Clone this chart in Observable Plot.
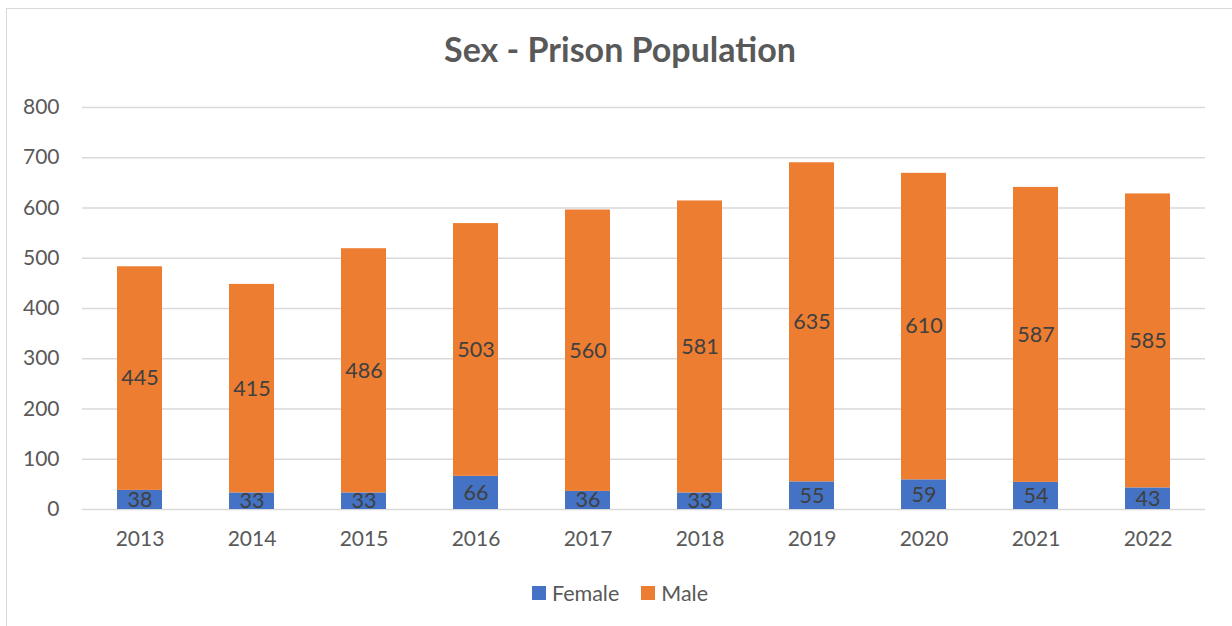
<!DOCTYPE html>
<html>
<head>
<meta charset="utf-8">
<script src="https://cdn.jsdelivr.net/npm/d3@7"></script>
<script src="https://cdn.jsdelivr.net/npm/@observablehq/plot@0.6"></script>
<style>
  html, body { margin: 0; padding: 0; background: #fff; overflow: hidden; }
  body { width: 1232px; height: 626px; position: relative; font-family: Lato, "Open Sans", sans-serif; }
  #frame { position: absolute; left: 6px; top: 8px; width: 1300px; height: 700px; border: 1.5px solid #d9d9d9; box-sizing: border-box; }
  #chart { position: absolute; left: 0; top: 0; }
  #title { position: absolute; left: 0; width: 1240px; top: 28px; text-align: center; font-size: 34px; font-weight: bold; color: #595959; line-height: 42px; }
  #legend { position: absolute; left: 0; width: 1240px; top: 580px; display: flex; justify-content: center; gap: 22px; font-size: 21.5px; color: #595959; line-height: 26px; }
  .item { display: flex; align-items: center; gap: 6px; }
  .sw { width: 14px; height: 14px; display: inline-block; }
</style>
</head>
<body>
<div id="frame"></div>
<div id="chart"></div>
<div id="title">Sex - Prison Population</div>
<div id="legend"></div>
<script>
const years = ["2013","2014","2015","2016","2017","2018","2019","2020","2021","2022"];
const female = [38, 33, 33, 66, 36, 33, 55, 59, 54, 43];
const male = [445, 415, 486, 503, 560, 581, 635, 610, 587, 585];
const seriesNames = ["Female", "Male"];
const seriesColors = ["#4472c4", "#ed7d31"];
const yTicks = [0, 100, 200, 300, 400, 500, 600, 700, 800];

const rows = [];
years.forEach((yr, i) => {
  rows.push({year: yr, sex: "Female", value: female[i]});
  rows.push({year: yr, sex: "Male", value: male[i]});
});

const plot = Plot.plot({
  width: 1232,
  height: 560,
  marginLeft: 82,
  marginRight: 27,
  marginTop: 107,
  marginBottom: 51,
  style: {background: "transparent", fontFamily: "Lato, 'Open Sans', sans-serif", fontSize: "21px", color: "#595959"},
  x: {domain: years, paddingInner: 0.6, paddingOuter: 0.3, label: null, tickSize: 0, tickPadding: 22},
  y: {domain: [0, 800], ticks: yTicks, label: null, tickSize: 0, tickPadding: 23},
  color: {domain: seriesNames, range: seriesColors},
  marks: [
    Plot.gridY(yTicks, {stroke: "#d9d9d9", strokeOpacity: 1, strokeWidth: 1.5}),
    Plot.barY(rows, Plot.stackY({x: "year", y: "value", fill: "sex", order: seriesNames})),
    Plot.text(rows, Plot.stackY({x: "year", y: "value", z: "sex", order: seriesNames, text: "value", fill: "#404040", fontSize: 21.5}))
  ]
});
document.getElementById("chart").appendChild(plot);

const legend = document.getElementById("legend");
seriesNames.forEach((n, i) => {
  const it = document.createElement("div");
  it.className = "item";
  const sw = document.createElement("span");
  sw.className = "sw";
  sw.style.background = seriesColors[i];
  const t = document.createElement("span");
  t.textContent = n;
  it.appendChild(sw); it.appendChild(t);
  legend.appendChild(it);
});
</script>
</body>
</html>
